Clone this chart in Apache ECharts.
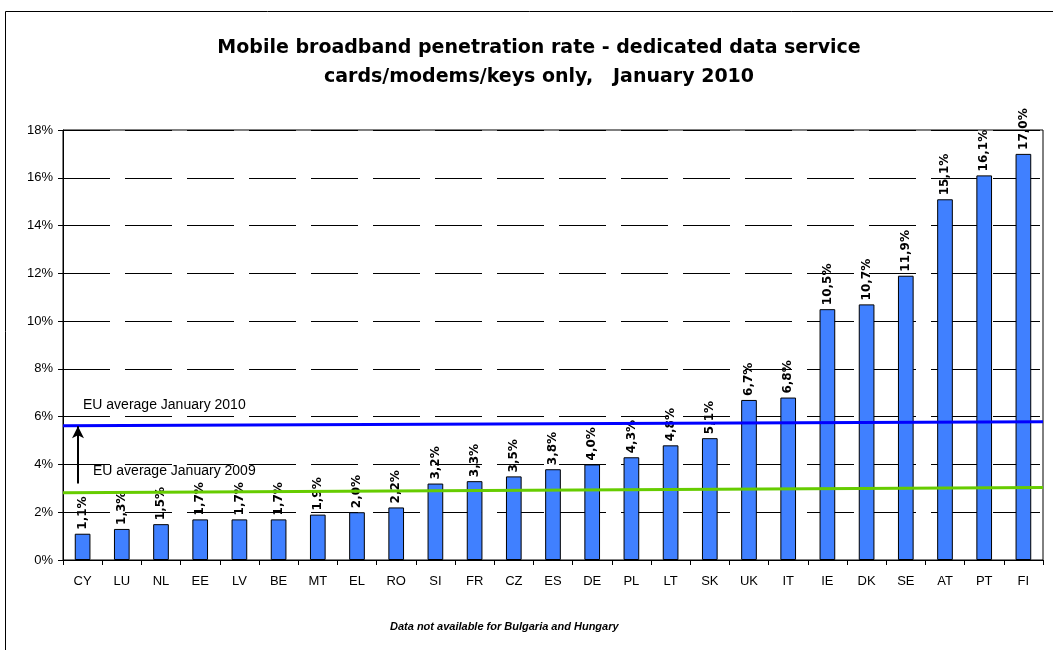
<!DOCTYPE html>
<html>
<head>
<meta charset="utf-8">
<script src="https://cdn.jsdelivr.net/npm/echarts@6/dist/echarts.min.js"></script>
<style>
  html, body { margin: 0; padding: 0; background: #fff; }
  #chart { width: 1053px; height: 650px; }
</style>
</head>
<body>
<div id="chart"></div>
<script>
'use strict';

// 国家代码
const countries = ['CY', 'LU', 'NL', 'EE', 'LV', 'BE', 'MT', 'EL', 'RO', 'SI', 'FR', 'CZ', 'ES',
    'DE', 'PL', 'LT', 'SK', 'UK', 'IT', 'IE', 'DK', 'SE', 'AT', 'PT', 'FI'];

// 渗透率 (%)
const rates = [1.1, 1.3, 1.5, 1.7, 1.7, 1.7, 1.9, 2.0, 2.2, 3.2, 3.3, 3.5, 3.8,
    4.0, 4.3, 4.8, 5.1, 6.7, 6.8, 10.5, 10.7, 11.9, 15.1, 16.1, 17.0];

// 欧盟平均线 (左端, 右端)
const euAvg2010 = [[0, 5.62], [1, 5.79]];
const euAvg2009 = [[0, 2.82], [1, 3.03]];

// 箭头: 从 2009 指向 2010
const arrowFrom = [0.0153, 3.2];
const arrowTo = [0.0153, 5.6];

const yTicks = [0, 2, 4, 6, 8, 10, 12, 14, 16, 18];

const FONT = 'Arial, "Liberation Sans", sans-serif';
const WIDE = '"DejaVu Sans", Verdana, sans-serif';

const chart = echarts.init(document.getElementById('chart'));

const option = {
    animation: false,
    textStyle: { fontFamily: FONT },
    title: {
        text: 'Mobile broadband penetration rate - dedicated data service\ncards/modems/keys only,   January 2010',
        left: 534,
        top: 29,
        textAlign: 'center',
        textStyle: {
            fontFamily: WIDE,
            fontSize: 19,
            fontWeight: 'bold',
            color: '#000',
            lineHeight: 29
        }
    },
    grid: {
        left: 63,
        right: 10,
        top: 130,
        bottom: 90,
        show: true,
        borderColor: '#000',
        borderWidth: 1,
        backgroundColor: 'transparent'
    },
    xAxis: [
        {
            type: 'category',
            data: countries,
            axisLine: { lineStyle: { color: '#000', width: 1 } },
            axisTick: { show: true, length: 5, lineStyle: { color: '#000' } },
            axisLabel: { color: '#000', fontSize: 13, margin: 15, interval: 0 }
        },
        {
            type: 'value',
            min: 0,
            max: 1,
            show: false
        }
    ],
    yAxis: {
        type: 'value',
        min: yTicks[0],
        max: yTicks[yTicks.length - 1],
        interval: 2,
        axisLine: { show: true, lineStyle: { color: '#000' } },
        axisTick: { show: true, length: 5, lineStyle: { color: '#000' } },
        axisLabel: { color: '#000', fontSize: 13, formatter: '{value}%', margin: 10 },
        splitLine: {
            show: true,
            lineStyle: { color: '#000', width: 1, type: [47, 15], dashOffset: 0 }
        }
    },
    series: [
        {
            name: 'rate',
            type: 'bar',
            data: rates,
            barWidth: '40%',
            itemStyle: { color: '#4080ff', borderColor: '#000', borderWidth: 1 },
            label: {
                show: true,
                position: 'top',
                rotate: 90,
                align: 'left',
                verticalAlign: 'middle',
                distance: 4,
                fontFamily: WIDE,
                fontSize: 12,
                fontWeight: 'bold',
                color: '#000',
                formatter: p => p.value.toFixed(1).replace('.', ',') + '%'
            },
            z: 2
        },
        {
            name: 'EU average January 2010',
            type: 'line',
            xAxisIndex: 1,
            data: euAvg2010,
            symbol: 'none',
            lineStyle: { color: '#0000ff', width: 3 },
            z: 3
        },
        {
            name: 'EU average January 2009',
            type: 'line',
            xAxisIndex: 1,
            data: euAvg2009,
            symbol: 'none',
            lineStyle: { color: '#66cc00', width: 3 },
            z: 3,
            markLine: {
                silent: true,
                symbol: ['none', 'arrow'],
                symbolSize: [9, 12],
                label: { show: false },
                lineStyle: { color: '#000', width: 2, type: 'solid' },
                data: [[{ coord: arrowFrom }, { coord: arrowTo }]]
            }
        }
    ],
    graphic: [
        {
            type: 'rect',
            silent: true,
            shape: { x: 5.5, y: 11.5, width: 1100, height: 700 },
            style: { fill: 'none', stroke: '#000', lineWidth: 1 }
        },
        {
            type: 'text',
            left: 83,
            top: 398,
            style: { text: 'EU average January 2010', fontFamily: FONT, fontSize: 14, fill: '#000' }
        },
        {
            type: 'text',
            left: 93,
            top: 464,
            style: { text: 'EU average January 2009', fontFamily: FONT, fontSize: 14, fill: '#000' }
        },
        {
            type: 'text',
            left: 390,
            top: 621,
            style: {
                text: 'Data not available for Bulgaria and Hungary',
                fontFamily: FONT,
                fontSize: 11,
                fontWeight: 'bold',
                fontStyle: 'italic',
                fill: '#000'
            }
        }
    ]
};

chart.setOption(option);
</script>
</body>
</html>
